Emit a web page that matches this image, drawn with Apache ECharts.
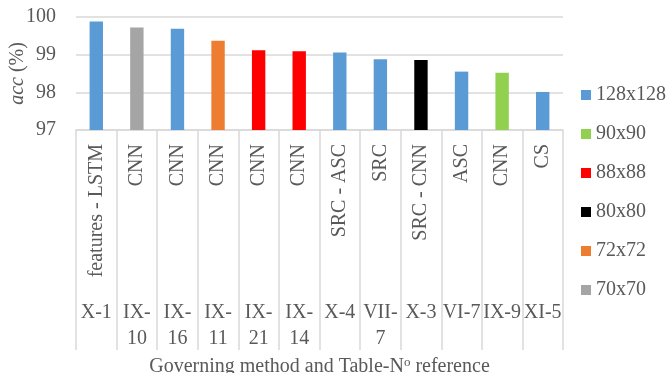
<!DOCTYPE html>
<html>
<head>
<meta charset="utf-8">
<script src="https://cdn.jsdelivr.net/npm/echarts@6/dist/echarts.min.js"></script>
<style>
  html, body { margin: 0; padding: 0; background: #fff; }
  #chart { width: 666px; height: 373px; }
</style>
</head>
<body>
<div id="chart"></div>
<script>
// Governing method of each entry, its table reference, accuracy and input resolution
const methods = ['features - LSTM', 'CNN', 'CNN', 'CNN', 'CNN', 'CNN', 'SRC - ASC', 'SRC', 'SRC - CNN', 'ASC', 'CNN', 'CS'];
const tableRefs = ['X-1', 'IX-10', 'IX-16', 'IX-11', 'IX-21', 'IX-14', 'X-4', 'VII-7', 'X-3', 'VI-7', 'IX-9', 'XI-5'];
const accuracy = [99.88, 99.72, 99.69, 99.37, 99.12, 99.09, 99.06, 98.88, 98.86, 98.55, 98.52, 98.01];
const resolution = ['128x128', '70x70', '128x128', '72x72', '88x88', '88x88', '128x128', '128x128', '80x80', '128x128', '90x90', '128x128'];

// Legend entries (order as listed) and their colours
const resolutionLevels = ['128x128', '90x90', '88x88', '80x80', '72x72', '70x70'];
const levelColors = ['#5B9BD5', '#92D050', '#FF0000', '#000000', '#ED7D31', '#A5A5A5'];

const FONT = '"Liberation Serif", "Times New Roman", serif';
const TXT = '#595959';
const GRID = '#D9D9D9';

// One series per resolution, all sharing the same slot so each bar sits centred in its category
const series = resolutionLevels.map((lvl, k) => ({
  name: lvl,
  type: 'bar',
  barWidth: '33%',
  barGap: '-100%',
  itemStyle: { color: levelColors[k] },
  data: accuracy.map((v, i) => (resolution[i] === lvl ? v : null))
}));

const chart = echarts.init(document.getElementById('chart'), null, { renderer: 'canvas' });
chart.setOption({
  animation: false,
  textStyle: { fontFamily: FONT, color: TXT },
  grid: { left: 76, right: 103, top: 17, bottom: 243, containLabel: false, outerBoundsMode: 'none' },
  legend: {
    orient: 'vertical',
    left: 576,
    top: 80,
    itemWidth: 10,
    itemHeight: 10,
    itemGap: 19,
    icon: 'rect',
    data: resolutionLevels,
    textStyle: { fontFamily: FONT, fontSize: 20, color: TXT }
  },
  xAxis: [
    {
      // method names, rotated, with long ticks acting as column separators
      type: 'category',
      data: methods,
      axisLine: { lineStyle: { color: GRID, width: 1.5 } },
      axisTick: { show: true, length: 220, lineStyle: { color: GRID, width: 1.5 } },
      axisLabel: {
        interval: 0, rotate: 90, margin: 14,
        fontFamily: FONT, fontSize: 20, color: TXT
      },
      name: 'Governing method and Table-N{sup|o} reference',
      nameLocation: 'middle',
      nameGap: 226,
      nameMoveOverlap: false,
      nameTextStyle: {
        fontFamily: FONT, fontSize: 20, color: TXT,
        rich: { sup: { fontFamily: FONT, fontSize: 13, color: TXT, verticalAlign: 'top', padding: [0, 0, 8, 0] } }
      }
    },
    {
      // table references, second label row
      type: 'category',
      data: tableRefs,
      position: 'bottom',
      axisLine: { show: false },
      axisTick: { show: false },
      axisLabel: {
        interval: 0, margin: 170, lineHeight: 26,
        fontFamily: FONT, fontSize: 20, color: TXT,
        formatter: v => (v.length > 4 ? v.replace('-', '-\n') : v)
      }
    }
  ],
  yAxis: {
    type: 'value',
    min: 97, max: 100, interval: 1,
    axisLine: { show: false },
    axisTick: { show: false },
    splitLine: { lineStyle: { color: GRID, width: 1.5 } },
    axisLabel: { margin: 20, fontFamily: FONT, fontSize: 20, color: TXT },
    name: '{i|acc} (%)',
    nameLocation: 'middle',
    nameRotate: 90,
    nameGap: 48,
    nameMoveOverlap: false,
    nameTextStyle: {
      fontFamily: FONT, fontSize: 20, color: TXT,
      rich: { i: { fontFamily: FONT, fontSize: 20, fontStyle: 'italic', color: TXT } }
    }
  },
  series: series
});
</script>
</body>
</html>
